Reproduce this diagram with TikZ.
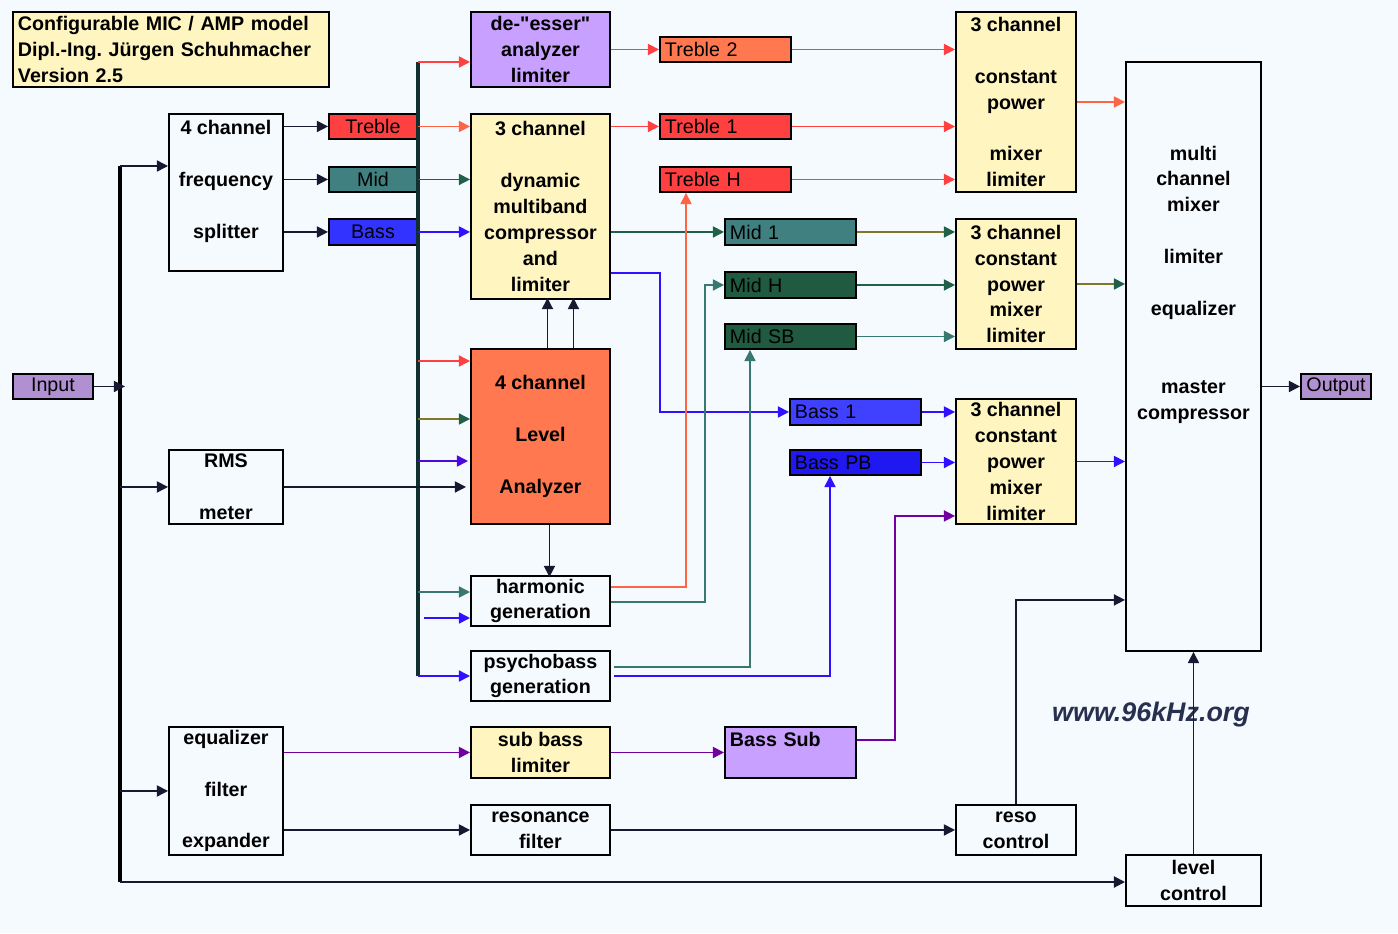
\documentclass[tikz,border=0pt]{standalone}
\usepackage{fontspec}
\setmainfont{Liberation Sans}[Ligatures=TeXOff]
\usetikzlibrary{arrows.meta, positioning, calc}
\definecolor{bgblue}{RGB}{245,250,255}
\definecolor{paleyellow}{RGB}{255,245,192}
\definecolor{lavender}{RGB}{200,160,255}
\definecolor{iopurple}{RGB}{176,144,208}
\definecolor{boxorange}{RGB}{255,120,80}
\definecolor{boxred}{RGB}{255,64,64}
\definecolor{boxteal}{RGB}{64,128,128}
\definecolor{boxgreen}{RGB}{32,90,64}
\definecolor{bassblue}{RGB}{51,51,255}
\definecolor{boxblue}{RGB}{64,64,255}
\definecolor{deepblue}{RGB}{32,24,240}
\definecolor{busteal}{RGB}{16,48,48}
\definecolor{linered}{RGB}{255,64,64}
\definecolor{lineorange}{RGB}{255,100,70}
\definecolor{linegreen}{RGB}{32,96,72}
\definecolor{lineolive}{RGB}{128,120,40}
\definecolor{lineteal}{RGB}{56,120,112}
\definecolor{lineblue}{RGB}{48,16,255}
\definecolor{linepurple}{RGB}{112,0,160}
\definecolor{linenavy}{RGB}{24,24,48}
\definecolor{urlnavy}{RGB}{40,48,80}
\frenchspacing

\begin{document}
\begin{tikzpicture}[
        x=0.02cm, y=-0.02cm,
        box/.style={rectangle, draw=black, line width=1.1pt, anchor=north west, align=center, inner sep=0pt, font=\fontsize{11.2}{14.74}\selectfont\bfseries},
        sz/.style 2 args={minimum width=#1*0.02cm, minimum height=#2*0.02cm},
        tag/.style={box, font=\fontsize{11.2}{14.74}\selectfont},
        tagl/.style={tag, text width=2.42cm, inner xsep=0.1cm, align=left},
        wire/.style={line width=0.85pt, -{Triangle[length=6.3pt, width=6.3pt]}},
        olivewire/.style={line width=0.85pt, lineolive, -{Triangle[length=6.3pt, width=6.3pt, color=linegreen]}},
        bus/.style={line width=2.3pt}
    ]
        \path[fill=bgblue, use as bounding box] (0,0) rectangle (1398,933);

        % left column
        \node[box, fill=paleyellow, text width=6.12cm, inner xsep=0.1cm, align=left, minimum height=1.5cm] (title) at (12,11) {Configurable MIC / AMP model\\Dipl.-Ing. Jürgen Schuhmacher\\Version 2.5};
        \node[tag, fill=iopurple, sz={80}{25}] (input) at (12,373) {Input};
        \node[box, sz={114}{157}] (split) at (168,113) {4 channel\\~\\frequency\\~\\splitter\\~};
        \node[box, sz={114}{74}] (rms) at (168,449) {RMS\\~\\meter};
        \node[box, sz={114}{128}] (eqf) at (168,726) {equalizer\\~\\filter\\~\\expander};
        \node[tag, fill=boxred, sz={88}{25}] (treble) at (328,113) {Treble};
        \node[tag, fill=boxteal, sz={88}{25}] (mid) at (328,166) {Mid};
        \node[tag, fill=bassblue, sz={88}{26}] (bass) at (328,218) {Bass};

        % processing column
        \node[box, fill=lavender, sz={139}{75}] (deess) at (470,11) {de-"esser"\\analyzer\\limiter};
        \node[box, fill=paleyellow, sz={139}{185}] (dyn) at (470,113) {3 channel\\~\\dynamic\\multiband\\compressor\\and\\limiter};
        \node[box, fill=boxorange, sz={139}{175}] (lvl) at (470,348) {4 channel\\~\\Level\\~\\Analyzer};
        \node[box, sz={139}{50}] (harm) at (470,575) {harmonic\\generation};
        \node[box, sz={139}{50}] (psy) at (470,650) {psychobass\\generation};
        \node[box, fill=paleyellow, sz={139}{51}] (sublim) at (470,726) {sub bass\\limiter};
        \node[box, sz={139}{50}] (reso) at (470,804) {resonance\\filter};

        % band signals
        \node[tagl, fill=boxorange, sz={130}{25}] (treb2) at (659,36) {Treble 2};
        \node[tagl, fill=boxred, sz={130}{25}] (treb1) at (659,113) {Treble 1};
        \node[tagl, fill=boxred, sz={130}{25}] (trebh) at (659,166) {Treble H};
        \node[tagl, fill=boxteal, sz={131}{26}] (mid1) at (724,218) {Mid 1};
        \node[tagl, fill=boxgreen, sz={131}{26}] (midh) at (724,271) {Mid H};
        \node[tagl, fill=boxgreen, sz={131}{25}] (midsb) at (724,323) {Mid SB};
        \node[tagl, fill=boxblue, sz={131}{26}] (bass1) at (789,398) {Bass 1};
        \node[tagl, fill=deepblue, sz={131}{25}] (basspb) at (789,449) {Bass PB};
        \node[box, fill=lavender, text width=2.42cm, inner xsep=0.1cm, align=left, sz={131}{51}] (basssub) at (724,726) {Bass Sub\\~};

        % mixers
        \node[box, fill=paleyellow, sz={120}{180}] (mixt) at (955,11) {3 channel\\~\\constant\\power\\~\\mixer\\limiter};
        \node[box, fill=paleyellow, sz={120}{130}] (mixm) at (955,218) {3 channel\\constant\\power\\mixer\\limiter};
        \node[box, fill=paleyellow, sz={120}{125}] (mixb) at (955,398) {3 channel\\constant\\power\\mixer\\limiter};
        \node[box, sz={135}{589}] (multi) at (1125,61) {};
        \node[align=center, inner sep=0pt, font=\fontsize{11.2}{14.74}\selectfont\bfseries] (multi-t) at ($(multi.center)+(0,-72)$) {multi\\channel\\mixer\\~\\limiter\\~\\equalizer\\~\\~\\master\\compressor};
        \node[tag, fill=iopurple, sz={70}{25}] (output) at (1300,373) {Output};
        \node[box, sz={120}{50}] (resoc) at (955,804) {reso\\control};
        \node[box, sz={135}{51}] (levc) at (1125,854) {level\\control};
        \node[text=urlnavy, font=\fontsize{15.3}{18}\selectfont\bfseries\itshape] (url) at (1151,715) {www.96kHz.org};

        % busses
        \coordinate (lb-top) at (120,166);
        \coordinate (lb-bot) at (120,882);
        \coordinate (rb-top) at (418,62);
        \coordinate (rb-bot) at (418,676);
        \draw[bus, black] (lb-top) -- (lb-bot);
        \draw[bus, busteal] (rb-top) -- (rb-bot);

        % input bus
        \draw[wire, linenavy] (input.east) -- ($(input.east -| lb-top)+(5,0)$);
        \draw[wire, linenavy] (lb-top) -- (lb-top -| split.west);
        \draw[wire, linenavy] (rms.west -| lb-top) -- (rms.west);
        \draw[wire, linenavy] (eqf.west -| lb-top) -- (eqf.west);
        \draw[wire, linenavy, line width=1.1pt] (lb-bot) -- (lb-bot -| levc.west);

        % splitter
        \draw[wire, linenavy] (split.east |- treble) -- (treble.west);
        \draw[wire, linenavy] (split.east |- mid) -- (mid.west);
        \draw[wire, linenavy] (split.east |- bass) -- (bass.west);

        % band bus taps
        \draw[wire, linered] (rb-top) -- (rb-top -| deess.west);
        \draw[wire, lineorange] (treble.east) -- (treble.east -| dyn.west);
        \draw[wire, linegreen] (mid.east) -- (mid.east -| dyn.west);
        \draw[wire, lineblue] (bass.east) -- (bass.east -| dyn.west);
        \draw[wire, linered] (rb-top |- lvl.north) ++(0,13) -- ++(52,0);
        \draw[olivewire] (rb-top |- lvl.north) ++(0,71) -- ++(52,0);
        \draw[wire, lineblue!60!linepurple] (rb-top |- lvl.north) ++(0,113) -- ++(50,0);
        \draw[wire, linenavy] (rms.east) -- ($(rms.east -| lvl.west)+(-4,0)$);
        \draw[wire, lineteal] (rb-top |- harm.north) ++(0,17) -- ++(52,0);
        \draw[wire, lineblue] (rb-top |- harm.north) ++(6,43) -- ++(46,0);
        \draw[wire, lineblue] (rb-bot) -- (rb-bot -| psy.west);

        % treble paths
        \draw[wire, linered] (deess.east) -- (treb2.west);
        \draw[wire, linered] (treb2.east) -- (treb2.east -| mixt.west);
        \draw[wire, linered] (dyn.east |- treb1) -- (treb1.west);
        \draw[wire, linered] (treb1.east) -- (treb1.east -| mixt.west);
        \draw[wire, linered] (trebh.east) -- (trebh.east -| mixt.west);
        \draw[wire, lineorange] (mixt.east) -- (mixt.east -| multi.west);

        % mid paths
        \draw[wire, linegreen] (dyn.east |- mid1) -- (mid1.west);
        \draw[olivewire] (mid1.east) -- (mid1.east -| mixm.west);
        \draw[wire, linegreen] (midh.east) -- (midh.east -| mixm.west);
        \draw[wire, lineteal] (midsb.east) -- (midsb.east -| mixm.west);
        \draw[olivewire] (mixm.east) -- (mixm.east -| multi.west);

        % bass paths
        \draw[wire, lineblue] (dyn.south east) ++(0,-27) -- ++(49,0) |- (bass1.west);
        \draw[wire, lineblue] (bass1.east) -- (bass1.east -| mixb.west);
        \draw[wire, lineblue] (basspb.east) -- (basspb.east -| mixb.west);
        \draw[wire, lineblue] (mixb.east) -- (mixb.east -| multi.west);

        % level analyzer control
        \draw[wire, linenavy] (lvl.north) ++(7,0) -- ++(0,-50);
        \draw[wire, linenavy] (lvl.north) ++(33,0) -- ++(0,-50);
        \draw[wire, linenavy] (lvl.south) ++(9,0) -- ++(0,52);

        % harmonic / psychobass returns
        \draw[wire, lineorange] (harm.north east) ++(0,12) -| ($(trebh.south west)+(27,0)$);
        \draw[wire, lineteal] (harm.north east) ++(0,27) -- ++(94,0) |- (midh.west);
        \draw[wire, lineteal] (psy.north east) ++(3,17) -| ($(midsb.south west)+(26,0)$);
        \draw[wire, lineblue] (psy.north east) ++(3,26) -| ($(basspb.south west)+(41,0)$);

        % sub bass and resonance
        \draw[wire, linepurple] (eqf.east |- sublim) -- (sublim.west);
        \draw[wire, linepurple] (sublim.east) -- (basssub.west);
        \draw[wire, linepurple] (basssub.north east) ++(0,14) -- ++(38,0) |- ($(mixb.south west)+(0,-9)$);
        \draw[wire, linenavy] (eqf.east |- reso) -- (reso.west);
        \draw[wire, linenavy] (reso.east) -- (resoc.west);
        \draw[wire, linenavy] (resoc.north) |- ($(multi.south west)+(0,-52)$);
        \draw[wire, linenavy] (levc.north) -- (multi.south);
        \draw[wire, linenavy] (multi.east |- output) -- (output.west);
    \end{tikzpicture}
\end{document}
